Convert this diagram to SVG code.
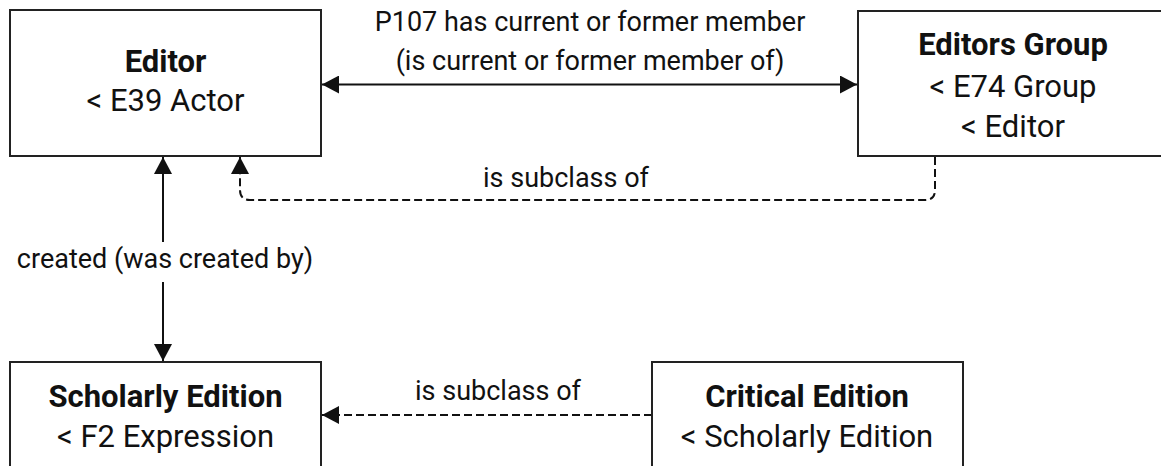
<svg xmlns="http://www.w3.org/2000/svg" width="1161" height="466" viewBox="0 0 1161 466">
<style>
.box{fill:#fff;stroke:#222;stroke-width:2}
.t{font-family:Roboto,"Liberation Sans",sans-serif;font-size:31px;fill:#111;text-anchor:middle}
.b{font-weight:bold}
.l{font-family:Roboto,"Liberation Sans",sans-serif;font-size:27px;fill:#111;text-anchor:middle}
.c{fill:none;stroke:#111;stroke-width:2}
.d{stroke-dasharray:8 4}
</style>
<defs>
<marker id="ah" markerUnits="userSpaceOnUse" markerWidth="18" markerHeight="18" refX="17" refY="9" orient="auto-start-reverse">
<path d="M0,0 L17,9 L0,18 z" fill="#111"/>
</marker>
</defs>
<rect width="1161" height="466" fill="#fff"/>
<g id="connectors">
<path class="c" d="M322,84.5 H857" marker-start="url(#ah)" marker-end="url(#ah)"/>
<text class="l" x="590" y="31">P107 has current or former member</text>
<text class="l" x="590" y="70">(is current or former member of)</text>
<path class="c" d="M163,157 V242" marker-start="url(#ah)"/>
<path class="c" d="M163,282 V361" marker-end="url(#ah)"/>
<text class="l" x="165" y="268">created (was created by)</text>
<path class="c d" d="M935,157 V190 Q935,200 925,200 H250 Q240,200 240,190 V157" marker-end="url(#ah)"/>
<text class="l" x="566" y="187">is subclass of</text>
<path class="c d" d="M652,415 H322" marker-end="url(#ah)"/>
<text class="l" x="498" y="400">is subclass of</text>
</g>
<g id="editor">
<rect class="box" x="10" y="10" width="311" height="146"/>
<text class="t b" x="165.5" y="72">Editor</text>
<text class="t" x="165.5" y="111">&lt; E39 Actor</text>
</g>
<g id="editors-group">
<rect class="box" x="858" y="11" width="311" height="145"/>
<text class="t b" x="1013" y="55">Editors Group</text>
<text class="t" x="1013" y="97">&lt; E74 Group</text>
<text class="t" x="1013" y="137">&lt; Editor</text>
</g>
<g id="scholarly-edition">
<rect class="box" x="10" y="362" width="311" height="120"/>
<text class="t b" x="165.5" y="407">Scholarly Edition</text>
<text class="t" x="165.5" y="447">&lt; F2 Expression</text>
</g>
<g id="critical-edition">
<rect class="box" x="652" y="362" width="311" height="120"/>
<text class="t b" x="807" y="407">Critical Edition</text>
<text class="t" x="807" y="447">&lt; Scholarly Edition</text>
</g>
</svg>
